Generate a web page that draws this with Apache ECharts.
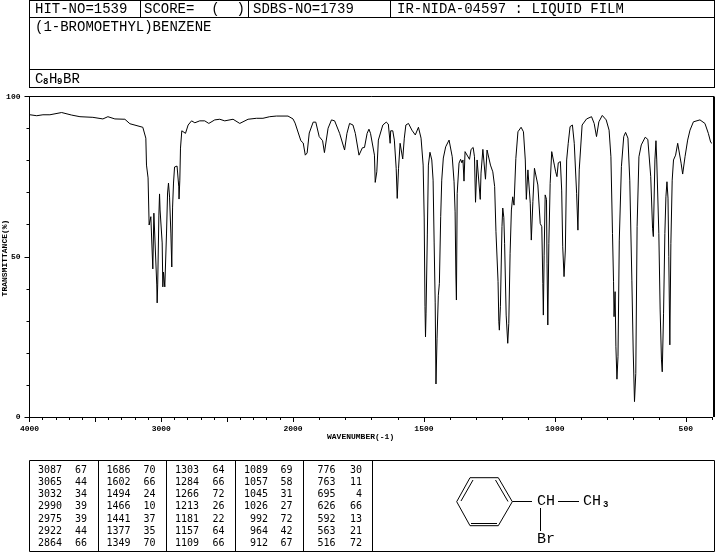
<!DOCTYPE html>
<html><head><meta charset="utf-8">
<style>html,body{margin:0;padding:0;background:#fff}#c{width:715px;height:553px}</style>
<script src="https://cdn.jsdelivr.net/npm/echarts@6/dist/echarts.min.js"></script>
</head><body><div id="c"></div>
<script>
var highWavenumbers=[3996,3945,3898,3845,3756,3680,3617,3519,3443,3405,3352,3276,3238,3140,3117,3112,3100,3092,3079,3069,3064,3056,3043,3034,3031,3027,3018,3013,3009,2993,2988,2983,2973,2960,2952,2945,2937,2927,2920,2914,2907,2899,2880,2872,2867,2865,2859,2854,2844,2829,2816,2796,2770,2745,2708,2670,2639,2594,2556,2518,2455,2404,2341,2278,2228,2177,2126,2038,2000];
var highTransmittance=[94.3,94,94.3,94.3,95,94.2,93.7,93.5,93,93.7,93,92.9,91.5,90.4,87,78.6,74.6,59.9,62.5,62.1,46.2,63.6,63.6,41.2,35.6,41.2,63,69.6,64.6,54.3,40.6,45.2,40.6,57.4,69.9,73,68.6,57.4,46.8,65.5,73,78,78.3,78.6,71.8,68,73.9,83.9,89.3,89.3,88.5,91.1,92.4,91.8,92.4,92.4,91.6,92.7,92.9,92.4,92.9,91.6,92.9,93.2,93.2,93.7,93.9,93.9,93];
var lowWavenumbers=[2000,1992,1970,1961,1953,1946,1938,1923,1913,1900,1887,1880,1875,1866,1853,1841,1822,1803,1794,1784,1771,1762,1748,1735,1727,1717,1710,1704,1698,1689,1686,1680,1674,1657,1644,1636,1629,1627,1619,1613,1606,1602,1597,1591,1584,1581,1575,1569,1559,1546,1533,1521,1511,1503,1499,1496,1494,1492,1487,1483,1477,1470,1465,1461,1457,1454,1450,1445,1441,1436,1432,1426,1417,1404,1398,1392,1385,1381,1378,1376,1373,1366,1360,1355,1351,1347,1343,1338,1326,1320,1312,1307,1303,1297,1293,1285,1282,1275,1269,1265,1259,1252,1246,1237,1230,1225,1217,1214,1212,1208,1202,1199,1195,1192,1186,1180,1176,1171,1166,1161,1156,1149,1141,1129,1120,1113,1109,1103,1098,1094,1090,1084,1078,1071,1065,1056,1050,1046,1044,1041,1037,1032,1030,1027,1023,1018,1012,1008,1002,997,992,987,979,974,970,965,960,955,949,942,933,926,917,912,907,896,879,860,850,841,832,819,804,793,786,780,776,774,770,767,763,759,754,746,737,730,721,714,706,701,696,691,686,679,670,655,645,634,627,624,618,614,611,603,598,593,590,585,580,576,572,568,565,561,557,552,547,539,531,525,518,512,503,493,484,471,446,427,414,405,400];
var lowTransmittance=[93,91.7,86.2,85.5,81.7,82.4,88.6,92,92,87.5,86.2,82.5,82.8,90.1,92.7,92.4,88.5,83.3,88.5,91.6,91.1,88.5,81.7,84,84.1,88.5,89.8,88.5,88.5,81.7,73.2,76.5,86.4,91.1,92,91.4,85.4,89.3,89.3,86.4,77.6,68.2,77.6,85.4,85.4,80.5,87,91.1,91.6,89.5,88,90.4,87,78.6,62.1,34.4,25,32.4,56.8,78.6,82.6,80.2,73.9,54.3,35.6,10.3,24.6,38,41.7,62.5,73.9,80.8,84.3,86.4,86.4,81.2,73.4,64,44.3,36.5,69.8,79.2,80.4,79.3,80.2,73.6,82.8,83.1,80.4,83.5,84.1,81.2,67,80.2,80.7,67.9,76.1,83.5,83.3,74.2,83.3,83.5,78.6,76.5,71.9,57.8,42.2,29.7,27.1,34.4,59.4,65.2,62.3,54.2,31.8,23,29.2,51.1,64.6,68.7,66.1,80.7,89,90.4,89,80.2,67.9,77.1,77.1,66.7,55.2,67.2,77.6,78.1,72.4,60.4,59.4,41.7,31.8,50.5,69.3,67.9,48,28.7,54.2,72.9,82.8,83.1,78.6,76.5,75,79.3,79.7,70.8,53.1,43.8,52.1,80.2,85.4,90.6,91.1,85.4,69.8,58.3,77.1,91.1,93,93.7,91.6,87.5,92.1,94.1,92.7,89.5,81.2,57.3,42.2,31.3,39.1,21.9,11.8,18.8,55.2,78.1,87.5,88.8,87,73.9,42.7,20.9,4.8,13.6,59.4,81.2,84.9,87.3,86.6,75,58.9,56.3,80.2,86.2,80.2,57.3,33.4,17.8,14.1,32.4,57.3,68.7,73.4,68.3,50,22.5,54.2,73.9,80.2,81.7,85.4,85.4,79.2,75.8,81.2,86.4,89.5,92.1,92.7,91.6,88.5,85.7,85.4];

var peakWavenumbers=[
 ["3087","3065","3032","2990","2975","2922","2864"],
 ["1686","1602","1494","1466","1441","1377","1349"],
 ["1303","1284","1266","1213","1181","1157","1109"],
 ["1089","1057","1045","1026","992","964","912"],
 ["776","763","695","626","592","563","516"]];
var peakValues=[
 ["67","44","34","39","39","44","66"],
 ["70","66","24","10","37","35","70"],
 ["64","66","72","26","22","64","66"],
 ["69","58","31","27","72","42","67"],
 ["30","11","4","66","13","21","72"]];
var headerCells=["HIT-NO=1539","SCORE=  (  )","SDBS-NO=1739","IR-NIDA-04597 : LIQUID FILM"];
var compoundName="(1-BROMOETHYL)BENZENE";

function pairs(a,b){return a.map(function(v,i){return [v,b[i]];});}
var MONO='"DejaVu Sans Mono","Liberation Mono",monospace';
var LMONO='"Liberation Mono",monospace';
var g=[];
function line(x1,y1,x2,y2,w){g.push({type:'line',silent:true,shape:{x1:x1,y1:y1,x2:x2,y2:y2},style:{stroke:'#000',lineWidth:w||1}});}
function txt(s,x,y,size,opt){opt=opt||{};var t={type:'text',silent:true,x:x,y:y,rotation:opt.rot||0,style:{text:s,font:(opt.weight||'normal')+' '+size+'px '+(opt.family||LMONO),fill:'#000',align:opt.align||'left',verticalAlign:'middle'}};g.push(t);}
// header frame
line(29.5,0.5,714.5,0.5);line(29.5,17.5,714.5,17.5);line(29.5,69.5,714.5,69.5);line(29.5,87.5,714.5,87.5);
line(29.5,0,29.5,88);line(714.5,0,714.5,88);line(140.5,0,140.5,18);line(248.5,0,248.5,18);line(390.5,0,390.5,18);
txt(headerCells[0],35,9.5,14);txt(headerCells[1],144,9.5,14);txt(headerCells[2],253,9.5,14);txt(headerCells[3],397,9.5,14);
txt(compoundName,35,27,14);
// formula with subscripts
txt('C',35,79,14);txt('8',43,82,9,{weight:'bold'});txt('H',49,79,14);txt('9',57,82,9,{weight:'bold'});txt('BR',63,79,14);
// plot frame top and right
line(29.5,96.5,714,96.5);line(714,96.5,714,417,2);
// axis titles
txt('TRANSMITTANCE(%)',4.5,258,8,{rot:Math.PI/2,align:'center',weight:'bold'});
txt('WAVENUMBER(-1)',327,437,8,{weight:'bold'});
// peak table
line(29.5,460.5,714.5,460.5);line(29.5,551.5,714.5,551.5);line(29.5,460.5,29.5,551.5);
[98.5,166.5,235.5,303.5,372.5].forEach(function(x){line(x,460.5,x,551.5);});
line(714.5,460.5,714.5,551.5);
var wnRight=[62,130.5,199,268,335.5],valRight=[87,155.5,224.5,292.5,362];
peakWavenumbers.forEach(function(col,c){col.forEach(function(w,r){
  var y=470+r*12.3;
  txt(w,wnRight[c],y,10,{align:'right',family:MONO});
  txt(peakValues[c][r],valRight[c],y,10,{align:'right',family:MONO});
});});
// structure
var ring=[[470,477.7],[498.3,477.7],[512.3,501.7],[498.3,525.7],[470,525.7],[456.7,501.7],[470,477.7]];
g.push({type:'polyline',silent:true,shape:{points:ring},style:{stroke:'#000',fill:null,lineWidth:1}});
line(473,480,461,501);line(495.5,480,508,501.5);line(471,523.5,497,523.5);
line(512.3,501.5,532,501.5);line(558,501.5,579,501.5);line(540.5,508,540.5,531);
txt('CH',537,501.5,15);txt('CH',583,501.5,15);txt('3',603,505,9,{weight:'bold'});txt('Br',537,539,15);

var axisLine={onZero:false,lineStyle:{color:'#000',width:1}};
var chart=echarts.init(document.getElementById('c'),null,{renderer:'canvas'});
var labelFont={color:'#000',fontSize:8,fontFamily:LMONO,fontWeight:'bold'};
var tick=function(n){return {length:n,lineStyle:{color:'#000'}};};
chart.setOption({
 animation:false,backgroundColor:'#fff',
 grid:[{left:29.5,top:96.5,width:263.5,height:320.5},{left:293,top:96.5,width:421,height:320.5}],
 xAxis:[
  {gridIndex:0,position:'bottom',type:'value',inverse:true,min:2000,max:4000,interval:500,axisLine:axisLine,splitLine:{show:false},
   axisTick:tick(5),
   axisLabel:Object.assign({},labelFont,{margin:8,showMaxLabel:true,showMinLabel:true,formatter:function(v){return v%1000===0?String(v):'';}})},
  {gridIndex:0,position:'bottom',type:'value',inverse:true,min:2000,max:4000,interval:100,axisLine:{show:false,onZero:false},splitLine:{show:false},
   axisTick:tick(3),axisLabel:{show:false}},
  {gridIndex:1,position:'bottom',type:'value',inverse:true,min:400,max:2000,interval:100,axisLine:axisLine,splitLine:{show:false},
   axisTick:tick(3),
   axisLabel:Object.assign({},labelFont,{margin:8,formatter:function(v){return (v%500===0&&v!==2000)?String(v):'';}})},
  {gridIndex:1,position:'bottom',type:'value',inverse:true,min:400,max:2000,axisLine:{show:false,onZero:false},splitLine:{show:false},
   axisTick:{length:5,customValues:[500,1000,1500],lineStyle:{color:'#000'}},axisLabel:{show:false}}
 ],
 yAxis:[
  {gridIndex:0,position:'left',type:'value',min:0,max:100,interval:10,axisLine:{show:true,onZero:false,lineStyle:{color:'#000'}},splitLine:{show:false},axisTick:tick(3),axisLabel:{show:false}},
  {gridIndex:0,position:'left',type:'value',min:0,max:100,interval:50,axisLine:{show:true,onZero:false,lineStyle:{color:'#000'}},splitLine:{show:false},axisTick:tick(5),
    axisLabel:Object.assign({},labelFont,{margin:9})},
  {gridIndex:1,type:'value',min:0,max:100,show:false}
 ],
 series:[
  {type:'line',xAxisIndex:0,yAxisIndex:0,data:pairs(highWavenumbers,highTransmittance),showSymbol:false,symbol:'none',smooth:false,clip:false,lineStyle:{color:'#000',width:1}},
  {type:'line',xAxisIndex:2,yAxisIndex:2,data:pairs(lowWavenumbers,lowTransmittance),showSymbol:false,symbol:'none',smooth:false,clip:false,lineStyle:{color:'#000',width:1}}
 ],
 graphic:g
});
</script></body></html>
